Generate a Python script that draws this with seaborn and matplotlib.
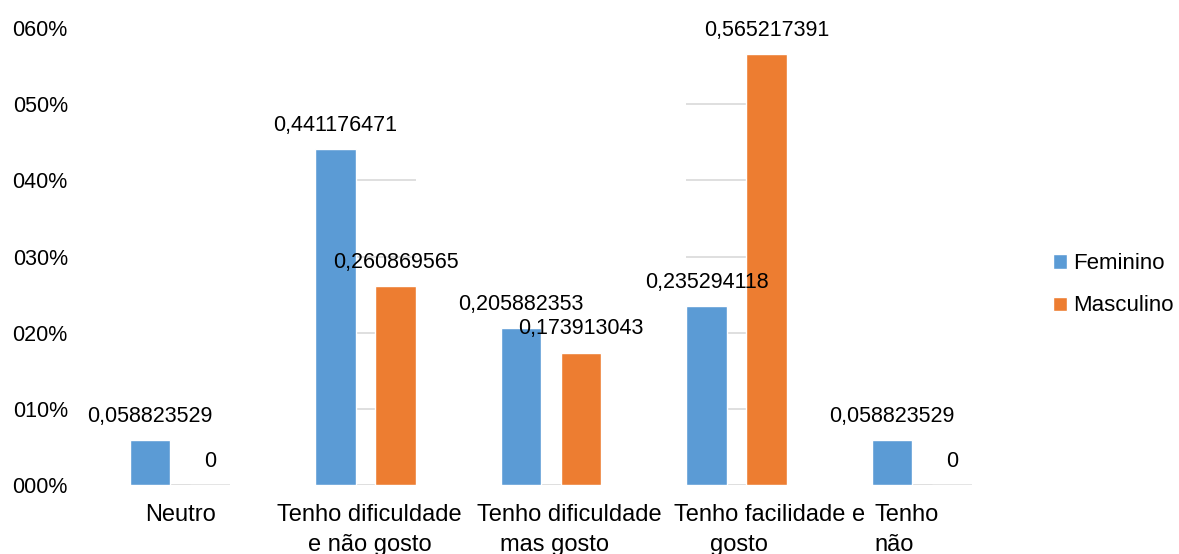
import matplotlib
matplotlib.use("Agg")
import matplotlib.pyplot as plt
import matplotlib.transforms as mtransforms
import seaborn as sns
import pandas as pd

categories = ["Neutro", "Tenho dificuldade e não gosto", "Tenho dificuldade mas gosto",
              "Tenho facilidade e gosto", "Tenho não"]
cat_line1 = ["Neutro", "Tenho dificuldade", "Tenho dificuldade", "Tenho facilidade e", "Tenho"]
cat_line2 = ["", "e não gosto", "mas gosto", "gosto", "não"]
feminino = [0.058823529, 0.441176471, 0.205882353, 0.235294118, 0.058823529]
masculino = [0.0, 0.260869565, 0.173913043, 0.565217391, 0.0]
series = ["Feminino", "Masculino"]
ytick_vals = [0.0, 0.1, 0.2, 0.3, 0.4, 0.5, 0.6]
ytick_labels = ["000%", "010%", "020%", "030%", "040%", "050%", "060%"]
value_labels_f = ["0,058823529", "0,441176471", "0,205882353", "0,235294118", "0,058823529"]
value_labels_m = ["0", "0,260869565", "0,173913043", "0,565217391", "0"]

df = pd.DataFrame({
    "cat": categories * 2,
    "serie": [series[0]] * len(categories) + [series[1]] * len(categories),
    "val": feminino + masculino,
})

sns.set_theme(style="white")
plt.rcParams["font.family"] = ["Liberation Sans", "DejaVu Sans"]

fig = plt.figure(figsize=(11.79, 5.54), dpi=100)
ax = fig.add_axes([0.074, 0.1245, 0.7867, 0.825])

palette = {"Feminino": "#5B9BD5", "Masculino": "#ED7D31"}
sns.barplot(data=df, x="cat", y="val", hue="serie", order=categories,
            hue_order=series, palette=palette, width=0.647, gap=0.33,
            saturation=1, ax=ax, legend=True, zorder=3)

ax.set_ylim(0, 0.6)
ax.set_xlim(-0.5, len(categories) - 0.5)
ax.set_yticks(ytick_vals)
ax.set_yticklabels(ytick_labels, fontsize=15.5, color="black")
ax.tick_params(axis="y", length=0, pad=14)

# category labels: first line as major tick labels, second line as minor tick labels
ax.xaxis.remove_overlapping_locs = False
ax.set_xticks(range(len(categories)))
ax.set_xticklabels(cat_line1, fontsize=17, color="black")
ax.set_xticks(range(len(categories)), minor=True)
ax.set_xticklabels(cat_line2, minor=True, fontsize=17, color="black")
ax.tick_params(axis="x", which="major", length=0, pad=14)
ax.tick_params(axis="x", which="minor", length=0, pad=35)
ax.set_xlabel("")
ax.set_ylabel("")
for s in ax.spines.values():
    s.set_visible(False)

# per-label horizontal nudges (pixels) to mimic the wrapped category labels
nudges1 = [1, 4, 18, 33, -15]
nudges2 = [0, 4, 3, 2, -28]
for lbl, dx in zip(ax.get_xticklabels(), nudges1):
    lbl.set_transform(lbl.get_transform() + mtransforms.Affine2D().translate(dx, 0))
for lbl, dx in zip(ax.get_xticklabels(minor=True), nudges2):
    lbl.set_transform(lbl.get_transform() + mtransforms.Affine2D().translate(dx, 0))

containers = ax.containers
# partial gridlines / baseline under bar groups
grid_levels = {1: ytick_vals[1:5], 3: ytick_vals[1:6]}
for i in range(len(categories)):
    xs = []
    for c in containers:
        p = c.patches[i]
        xs += [p.get_x(), p.get_x() + p.get_width()]
    x0, x1 = min(xs), max(xs)
    ax.hlines(0, x0, x1, color="#D9D9D9", lw=1.2, zorder=2)
    for yv in grid_levels.get(i, []):
        ax.hlines(yv, x0, x1, color="#D9D9D9", lw=1.2, zorder=1)

for c, labels in zip(containers, [value_labels_f, value_labels_m]):
    for p, t in zip(c.patches, labels):
        ax.annotate(t, (p.get_x() + p.get_width() / 2, p.get_height()),
                    xytext=(0, 17), textcoords="offset points",
                    ha="center", va="center", fontsize=15.5, color="black",
                    zorder=5)

leg = ax.legend(loc="center left", bbox_to_anchor=(1.02, 0.438), frameon=False,
                fontsize=16, handlelength=0.6, handleheight=0.6,
                handletextpad=0.3, labelspacing=0.95)
for t in leg.get_texts():
    t.set_color("black")

fig.savefig("out.png", dpi=100, facecolor="white")
